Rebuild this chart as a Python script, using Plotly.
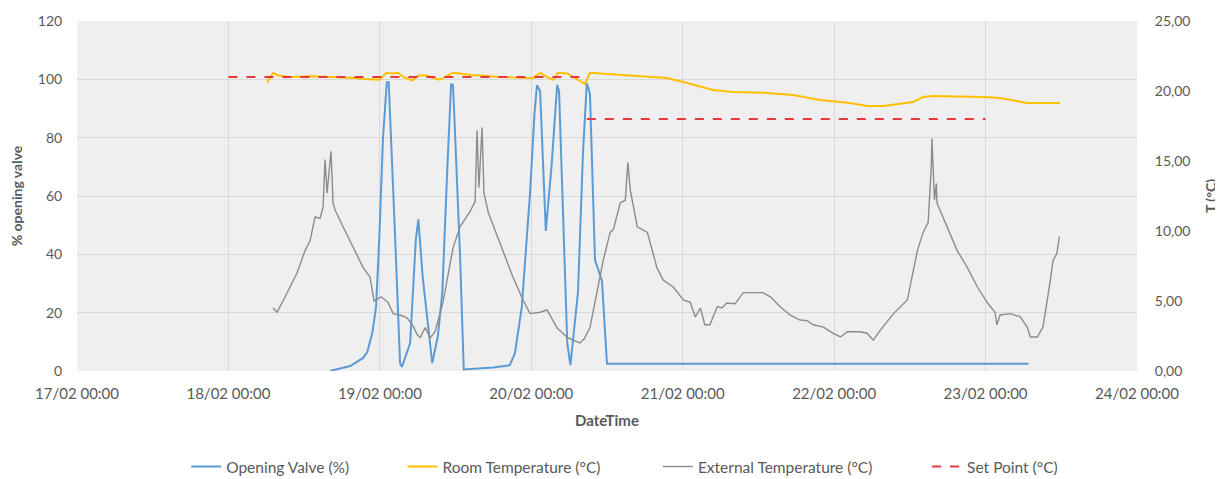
import pandas as pd
import plotly.graph_objects as go

BASE = pd.Timestamp("2021-02-17 00:00")

# ---- Opening valve (%) : hours since 17/02 00:00, value ----
valve_h = [40.1, 43.3, 45.3, 46.0, 46.8, 47.4, 47.9, 48.5, 49.1, 49.4, 50.4, 51.2, 51.5, 52.8,
           53.7, 54.1, 54.8, 55.6, 56.3, 57.2, 57.9, 58.7, 59.3, 59.6, 60.7, 61.3, 66.0, 68.6,
           69.4, 70.5, 71.2, 71.8, 72.5, 72.9, 73.4, 74.3, 75.2, 76.1, 76.4, 77.7, 78.2, 79.4,
           80.2, 80.8, 81.3, 82.1, 83.2, 84.0, 150.8]
valve_v = [0.0, 1.7, 4.4, 6.5, 13.0, 22.0, 45.0, 80.0, 99.0, 99.0, 47.0, 2.7, 1.4, 9.6,
           45.0, 52.0, 32.0, 17.5, 2.7, 12.0, 27.0, 70.0, 98.5, 98.0, 40.0, 0.5, 1.2, 2.0,
           6.0, 22.0, 42.0, 61.0, 88.0, 98.0, 96.0, 48.0, 70.0, 98.0, 96.0, 9.6, 2.0, 27.0,
           75.0, 98.7, 95.0, 38.0, 31.0, 2.5, 2.5]

# ---- Room temperature (°C) ----
room_h = [30.1, 31.1, 31.9, 33.8, 36.9, 40.1, 43.3, 45.7, 48.0, 49.0, 50.1, 50.9, 51.7, 53.1,
          54.1, 55.5, 56.4, 57.5, 59.6, 60.7, 62.3, 65.0, 67.05, 70.2, 72.3, 73.4, 74.5, 75.5,
          76.2, 77.7, 78.6, 80.5, 81.3, 82.9, 88.1, 93.5, 96.1, 98.8, 100.8, 104.0, 109.4,
          113.5, 116.2, 117.8, 122.5, 125.2, 127.8, 132.5, 134.1, 135.7, 143.6, 146.3, 150.6, 155.8]
room_t = [20.6, 21.3, 21.1, 21.0, 21.05, 21.0, 20.95, 20.85, 20.8, 21.3, 21.25, 21.3, 21.0, 20.75,
          21.1, 21.1, 20.93, 20.8, 21.3, 21.25, 21.14, 21.07, 21.0, 20.95, 20.93, 21.3, 21.0, 20.8,
          21.3, 21.25, 21.0, 20.5, 21.3, 21.25, 21.14, 20.93, 20.64, 20.29, 20.07, 19.93, 19.86,
          19.71, 19.5, 19.36, 19.14, 18.93, 18.93, 19.21, 19.57, 19.64, 19.57, 19.5, 19.14, 19.14]

# ---- External temperature (°C) ----
ext_h = [31.07, 31.7, 32.65, 33.76, 34.87, 36.14, 36.94, 37.73, 38.52, 39.0, 39.31, 39.63, 40.26,
         40.58, 40.9, 42.17, 43.75, 45.34, 46.45, 47.08, 48.19, 49.3, 50.1, 51.2, 52.3, 53.3, 53.9,
         54.4, 55.2, 55.96, 56.75, 58.0, 59.6, 60.7, 62.3, 63.1, 63.4, 63.7, 64.2, 64.5, 65.2,
         67.05, 69.1, 70.7, 71.8, 73.4, 74.5, 76.1, 77.7, 78.6, 79.7, 80.4, 81.3, 82.4, 83.4,
         84.5, 85.0, 86.1, 86.9, 87.3, 87.7, 88.8, 90.4, 91.9, 92.9, 94.5, 96.1, 97.2, 98.0,
         98.8, 99.5, 100.3, 101.5, 102.2, 103.0, 104.3, 105.6, 107.2, 108.7, 109.9, 111.4, 113.0,
         114.6, 115.7, 116.7, 118.3, 119.8, 121.0, 122.1, 123.0, 124.1, 125.2, 126.2, 127.3,
         129.4, 131.6, 132.5, 133.2, 134.1, 134.9, 135.4, 135.5, 135.9, 136.2, 136.3, 137.9,
         139.5, 141.1, 142.7, 144.3, 145.5, 145.8, 146.3, 147.9, 149.5, 150.6, 151.1, 152.2,
         153.1, 154.2, 154.7, 155.3, 155.7]
ext_t = [4.5, 4.2, 5.0, 6.0, 7.0, 8.6, 9.3, 11.0, 10.9, 11.7, 15.1, 12.7, 15.7,
         12.0, 11.5, 10.3, 8.8, 7.4, 6.7, 5.0, 5.3, 4.9, 4.1, 4.0, 3.8, 3.2, 2.6,
         2.4, 3.1, 2.36, 2.8, 4.9, 8.8, 10.3, 11.4, 12.1, 17.2, 13.1, 17.4, 12.7, 11.3,
         9.1, 6.7, 5.07, 4.1, 4.2, 4.36, 3.07, 2.4, 2.2, 2.0, 2.3, 3.1, 5.6, 7.9,
         9.9, 10.1, 12.0, 12.2, 14.9, 12.9, 10.3, 9.9, 7.4, 6.5, 6.0, 5.07, 4.9, 3.86,
         4.5, 3.3, 3.3, 4.6, 4.5, 4.86, 4.8, 5.6, 5.6, 5.6, 5.3, 4.6, 4.0,
         3.64, 3.6, 3.3, 3.14, 2.7, 2.43, 2.8, 2.8, 2.8, 2.7, 2.2, 2.9,
         4.1, 5.07, 7.0, 8.6, 9.9, 10.6, 14.6, 16.6, 12.2, 13.4, 12.0, 10.3,
         8.6, 7.4, 6.0, 4.86, 4.2, 3.3, 4.0, 4.1, 3.86, 3.14, 2.43, 2.43,
         3.14, 6.3, 7.9, 8.4, 9.6]

# ---- Set point (°C) ----
set_h = [24.0, 80.8, 80.8, 80.8, 144.0]
set_t = [21.0, 21.0, None, 18.0, 18.0]

# ---- Axis ticks ----
left_ticks = [0, 20, 40, 60, 80, 100, 120]
right_ticks = [0, 5, 10, 15, 20, 25]


def to_dt(hours):
    return [BASE + pd.Timedelta(hours=h) for h in hours]


FONT = "Lato, 'Open Sans', sans-serif"
TXT = "#595959"

fig = go.Figure()
fig.add_trace(go.Scatter(x=to_dt(valve_h), y=valve_v, mode="lines", name="Opening Valve (%)",
                         line=dict(color="#5B9BD5", width=2), legend="legend"))
fig.add_trace(go.Scatter(x=to_dt(room_h), y=room_t, mode="lines", name="Room Temperature (°C)",
                         line=dict(color="#FFC000", width=2), yaxis="y2", legend="legend2"))
fig.add_trace(go.Scatter(x=to_dt(ext_h), y=ext_t, mode="lines", name="External Temperature (°C)",
                         line=dict(color="#8C8C8C", width=1.4), yaxis="y2", legend="legend3"))
fig.add_trace(go.Scatter(x=to_dt(set_h), y=set_t, mode="lines", name="Set Point (°C)",
                         line=dict(color="#E8383D", width=2, dash="dash"), yaxis="y2",
                         connectgaps=False, legend="legend4"))


def leg(xpos):
    return dict(orientation="h", x=xpos, xanchor="left", y=-0.274, yanchor="middle",
                font=dict(size=15.5, color=TXT), bgcolor="rgba(0,0,0,0)")


# the page body adds an 8px margin, so the figure is 8px smaller on each axis
fig.update_layout(
    width=1215, height=471,
    margin=dict(l=69, r=86, t=13, b=108, autoexpand=False),
    paper_bgcolor="white",
    plot_bgcolor="#EFEFEF",
    separators=",.",
    font=dict(family=FONT, size=14, color=TXT),
    showlegend=True,
    legend=leg(0.103), legend2=leg(0.307), legend3=leg(0.548), legend4=leg(0.802),
    xaxis=dict(
        type="date", automargin=False,
        range=[BASE, BASE + pd.Timedelta(days=7)],
        dtick=86400000, tick0=BASE, tickformat="%d/%m %H:%M",
        showgrid=True, gridcolor="#D9D9D9", gridwidth=1,
        zeroline=False, showline=False,
        ticks="outside", ticklen=9, tickcolor="rgba(0,0,0,0)",
        tickfont=dict(size=15, color=TXT),
        title=dict(text="<b>DateTime</b>", font=dict(size=15, color=TXT), standoff=14),
    ),
    yaxis=dict(
        automargin=False,
        range=[0, 120], tickvals=left_ticks,
        showgrid=True, gridcolor="#D9D9D9", gridwidth=1,
        zeroline=False, showline=False,
        ticks="outside", ticklen=11, tickcolor="rgba(0,0,0,0)",
        tickfont=dict(size=14, color=TXT),
        title=dict(text="<b>% opening valve</b>", font=dict(size=14, color=TXT), standoff=11),
    ),
    yaxis2=dict(
        automargin=False,
        range=[0, 25], tickvals=right_ticks, tickformat=".2f",
        overlaying="y", side="right", showgrid=False, zeroline=False, showline=False,
        ticks="outside", ticklen=14, tickcolor="rgba(0,0,0,0)",
        tickfont=dict(size=14, color=TXT),
        title=dict(text="<b>T (°C)</b>", font=dict(size=14, color=TXT), standoff=16),
    ),
)

fig.write_html("out.html")
